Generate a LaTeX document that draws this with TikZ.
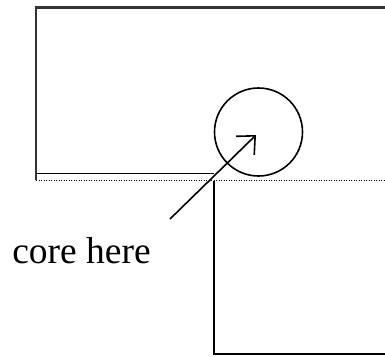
\documentclass[tikz,border=0pt]{standalone}
\usepackage{fontspec}
\setmainfont{Liberation Serif}
\usetikzlibrary{arrows.meta}
\begin{document}
\begin{tikzpicture}[x=1pt,y=-1pt,
  edge/.style={line width=1.7pt},
  denseedge/.style={line width=2.2pt, black!80},
  dotline/.style={line width=1.5pt, dash pattern=on 1.2pt off 1.3pt},
  lbl/.style={font=\fontsize{37.5}{40}\selectfont, inner sep=0pt, anchor=base}]
\useasboundingbox (0,0) rectangle (385,356);
% upper block
\draw[denseedge] (36,180) -- (36,7.5) -- (385,7.5);
\draw[edge] (36,173.5) -- (214,173.5);
\draw[dotline] (36,180.5) -- (385,180.5);
% lower block
\draw[edge] (214,180.5) -- (214,354.3) -- (385,354.3);
% core
\node[draw, circle, line width=1.6pt, minimum size=88pt, inner sep=0pt] (core) at (258.5,132) {};
\coordinate (tip) at (256,135);
\node[lbl] (label) at (81.5,263) {core here};
\coordinate (tail) at (170,219);
\draw[line width=1.6pt, -{Straight Barb[length=14pt,width=26pt,line width=1.6pt]}] (tail) -- (tip);
\end{tikzpicture}
\end{document}
